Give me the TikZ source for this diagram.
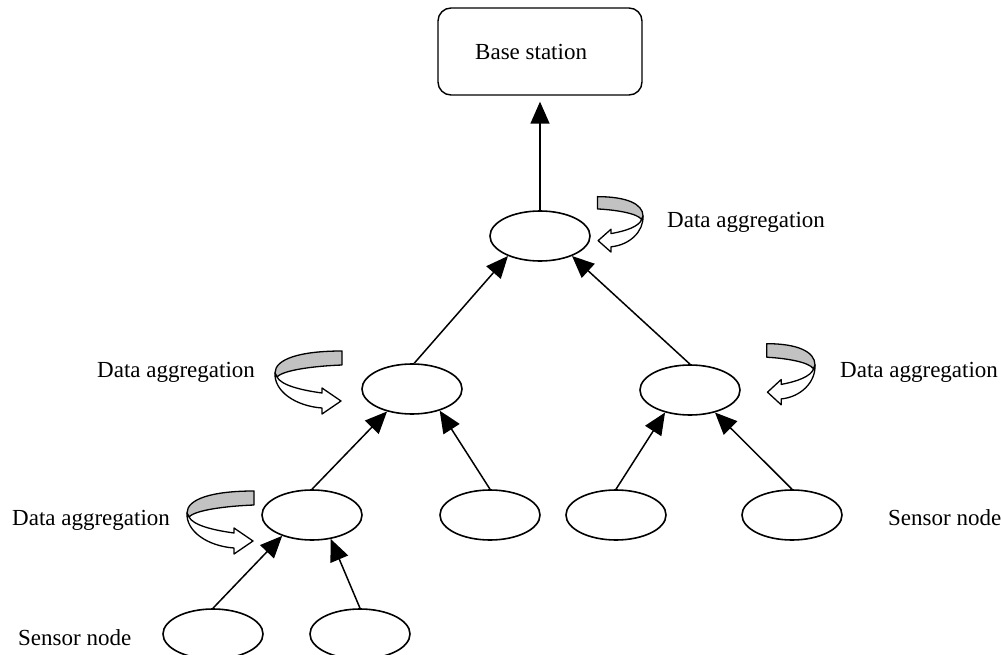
\documentclass[tikz,border=0pt]{standalone}
\usepackage{fontspec}
\setmainfont{Liberation Serif}
\usetikzlibrary{arrows.meta,shapes.geometric}
\newcommand\aggsymbol{%
    \filldraw[fill=black!24,line width=1.3pt,line join=round]
      (0,0) .. controls (0,-14) and (25,-22) .. (67,-22) -- (67,-8)
      .. controls (40,-7) and (8,-3) .. (2,4) -- cycle;
    \filldraw[fill=white,line width=1.3pt,line join=round]
      (0,0) .. controls (-1,18) and (20,33) .. (47,35) -- (47,41) -- (66,28)
      -- (47,15) -- (47,20) .. controls (25,17) and (6,12) .. (2,4) -- cycle;
}
\begin{document}
\begin{tikzpicture}[x=1pt,y=-1pt,
  enode/.style={draw,ellipse,minimum width=100pt,minimum height=50pt,inner sep=0pt,line width=1.6pt},
  arr/.style={-{Triangle[length=22pt,width=19pt]},line width=1.5pt},
  lbl/.style={anchor=base west,inner sep=0pt,font=\fontsize{23}{28}\selectfont}]
\useasboundingbox (0,0) rectangle (1001,655);

% base station
\node[draw,rounded corners=13pt,minimum width=204pt,minimum height=87pt,line width=1.4pt] (bs) at (540,51.5) {};
\node[lbl] (bstxt) at (475,60) {Base station};

% ellipses
\node[enode] (top) at (540,236) {};
\node[enode] (ml) at (412,389) {};
\node[enode] (mr) at (690,390) {};
\node[enode] (a) at (312,515) {};
\node[enode] (b) at (490,515) {};
\node[enode] (c) at (616,515) {};
\node[enode] (d) at (792,515) {};
\node[enode] (e) at (213,634) {};
\node[enode] (f) at (360,634) {};

% connectors
\draw[arr,shorten >=6pt] (top.north) -- (bs.south);
\draw[arr] (ml.85) -- (top.212);
\draw[arr] (mr.north) -- (top.328);
\draw[arr] (a.north) -- (ml.222);
\draw[arr] (b.north) -- (ml.322);
\draw[arr] (c.north) -- (mr.222);
\draw[arr] (d.north) -- (mr.318);
\draw[arr] (e.north) -- (a.215);
\draw[arr] (f.north) -- (a.308);

% aggregation symbols
\begin{scope}[shift={(643,216)},xscale=-0.68,yscale=0.88]
  \aggsymbol
\end{scope}
\begin{scope}[shift={(275,373)}]
  \aggsymbol
\end{scope}
\begin{scope}[shift={(815,365)},xscale=-0.72,yscale=0.97]
  \aggsymbol
\end{scope}
\begin{scope}[shift={(187,513)}]
  \aggsymbol
\end{scope}

% labels
\node[lbl] (l1) at (667,228) {Data aggregation};
\node[lbl] (l2) at (97,377) {Data aggregation};
\node[lbl] (l3) at (840,377) {Data aggregation};
\node[lbl] (l4) at (12,525) {Data aggregation};
\node[lbl] (s1) at (888,525) {Sensor node};
\node[lbl] (s2) at (18,645) {Sensor node};
\end{tikzpicture}
\end{document}
